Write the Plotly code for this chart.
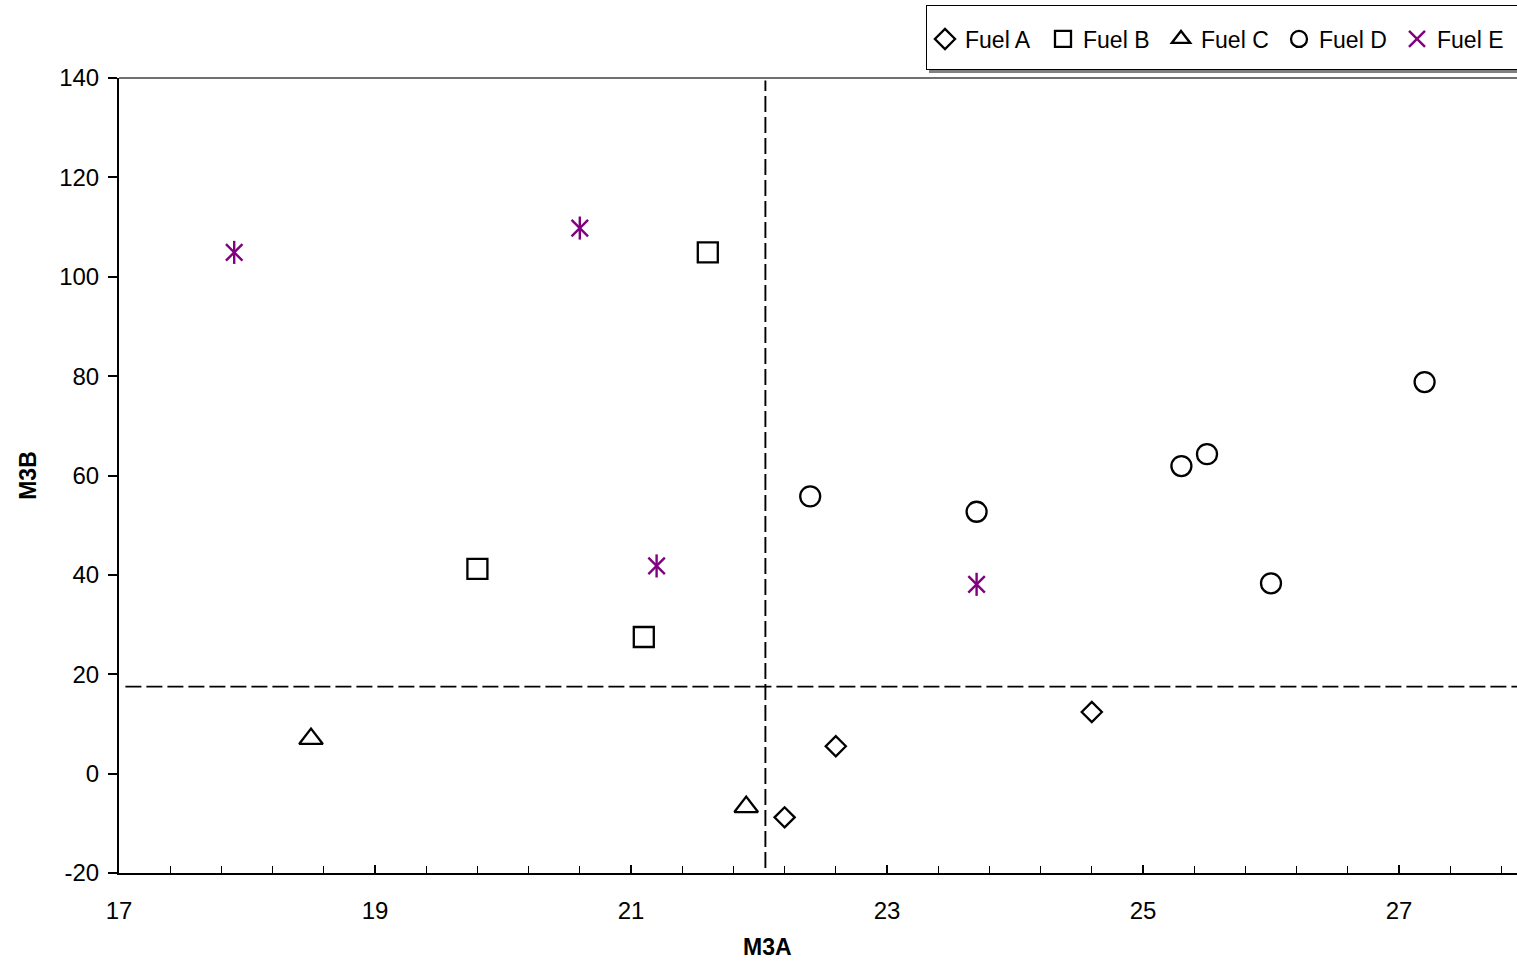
import plotly.graph_objects as go

# ---- data ----
fuel_a_x = [22.2, 22.6, 24.6]
fuel_a_y = [-8.8, 5.5, 12.4]

fuel_b_x = [19.8, 21.1, 21.6]
fuel_b_y = [41.2, 27.5, 104.9]

fuel_c_x = [18.5, 21.9]
fuel_c_y = [7.0, -6.7]

fuel_d_x = [22.4, 23.7, 25.3, 25.5, 26.0, 27.2]
fuel_d_y = [55.8, 52.7, 61.9, 64.3, 38.3, 78.8]

fuel_e_x = [17.9, 20.6, 21.2, 23.7]
fuel_e_y = [104.9, 109.8, 41.8, 38.1]

vline_x = [22.05, 22.05]
vline_y = [-19, 139.5]
hline_x = [17.05, 28]
hline_y = [17.5, 17.5]

x_ticks = [17, 19, 21, 23, 25, 27]
x_ticktext = ["17", "19", "21", "23", "25", "27"]
y_ticks = [-20, 0, 20, 40, 60, 80, 100, 120, 140]
y_ticktext = ["-20", "0", "20", "40", "60", "80", "100", "120", "140"]

FONT = "Arial, Liberation Sans, sans-serif"
W, H = 1517, 963
ML, MR, MT, MB = 119, 0, 78, 90
PW, PH = W - ML - MR, H - MT - MB


def px_x(px):
    return (px - ML) / PW


def px_y(py):
    return (H - MB - py) / PH


fig = go.Figure()

dash = "16px,5px"
fig.add_trace(go.Scatter(x=vline_x, y=vline_y, mode="lines", showlegend=False,
                         line=dict(color="black", width=1.9, dash=dash), hoverinfo="skip"))
fig.add_trace(go.Scatter(x=hline_x, y=hline_y, mode="lines", showlegend=False,
                         line=dict(color="black", width=1.9, dash=dash), hoverinfo="skip"))

mk_line = dict(color="black", width=2.3)
fig.add_trace(go.Scatter(x=fuel_a_x, y=fuel_a_y, mode="markers", name="Fuel A",
                         marker=dict(symbol="diamond-open", size=15.5, color="black", line=mk_line)))
fig.add_trace(go.Scatter(x=fuel_b_x, y=fuel_b_y, mode="markers", name="Fuel B",
                         marker=dict(symbol="square-open", size=20, color="black", line=mk_line)))
fig.add_trace(go.Scatter(x=fuel_c_x, y=fuel_c_y, mode="markers", name="Fuel C",
                         marker=dict(symbol="triangle-up-open", size=20.5, color="black", line=mk_line)))
fig.add_trace(go.Scatter(x=fuel_d_x, y=fuel_d_y, mode="markers", name="Fuel D",
                         marker=dict(symbol="circle-open", size=20, color="black", line=mk_line)))
purple = "#800080"
fig.add_trace(go.Scatter(x=fuel_e_x, y=fuel_e_y, mode="markers", name="Fuel E",
                         marker=dict(symbol="x-thin-open", size=16.5, color=purple,
                                     line=dict(color=purple, width=2.4))))
fig.add_trace(go.Scatter(x=fuel_e_x, y=fuel_e_y, mode="markers", name="Fuel E",
                         showlegend=False,
                         marker=dict(symbol="line-ns-open", size=16.5, color=purple,
                                     line=dict(color=purple, width=2.4))))

RIGHT = px_x(W)  # == 1.0, keep every shape inside the figure
shapes = [
    # legend shadow (bottom) and box
    dict(type="rect", xref="paper", yref="paper", layer="below",
         x0=px_x(929), x1=RIGHT, y0=px_y(73), y1=px_y(70),
         fillcolor="#808080", line=dict(width=0)),
    dict(type="rect", xref="paper", yref="paper", layer="below",
         x0=px_x(926), x1=RIGHT, y0=px_y(70), y1=px_y(5),
         fillcolor="white", line=dict(width=0)),
    dict(type="line", xref="paper", yref="paper", x0=px_x(926), x1=RIGHT,
         y0=px_y(5.5), y1=px_y(5.5), line=dict(color="black", width=1)),
    dict(type="line", xref="paper", yref="paper", x0=px_x(926), x1=RIGHT,
         y0=px_y(69.5), y1=px_y(69.5), line=dict(color="black", width=1)),
    dict(type="line", xref="paper", yref="paper", x0=px_x(926.5), x1=px_x(926.5),
         y0=px_y(5.5), y1=px_y(69.5), line=dict(color="black", width=1)),
    # top border of plot area
    dict(type="line", xref="paper", yref="paper", x0=0, x1=1, y0=1, y1=1,
         line=dict(color="#404040", width=1.5)),
]

annotations = [
    dict(text="<b>M3A</b>", xref="paper", yref="paper",
         x=px_x(767), y=px_y(947), xanchor="center", yanchor="middle",
         showarrow=False, font=dict(family=FONT, size=23, color="black")),
]

fig.update_layout(
    width=W, height=H, autosize=False,
    margin=dict(l=ML, r=MR, t=MT, b=MB, pad=0),
    paper_bgcolor="white", plot_bgcolor="white",
    font=dict(family=FONT, size=23, color="black"),
    shapes=shapes,
    annotations=annotations,
    showlegend=True,
    legend=dict(orientation="h", x=px_x(925), xanchor="left",
                y=px_y(39), yanchor="middle",
                bgcolor="rgba(0,0,0,0)", borderwidth=0,
                entrywidth=73, entrywidthmode="pixels",
                font=dict(family=FONT, size=23, color="black"),
                itemsizing="trace"),
    xaxis=dict(range=[17, 17 + PW / 128.0], tickvals=x_ticks, ticktext=x_ticktext,
               showgrid=False, zeroline=False,
               showline=True, linecolor="black", linewidth=2,
               ticks="inside", ticklen=8, tickwidth=1.5, tickcolor="black",
               ticklabelstandoff=15,
               tickfont=dict(family=FONT, size=24, color="black"),
               minor=dict(dtick=0.4, tick0=17, ticks="inside", ticklen=7,
                          tickwidth=1.2, tickcolor="black", showgrid=False)),
    yaxis=dict(range=[-20, 140], tickvals=y_ticks, ticktext=y_ticktext,
               showgrid=False, zeroline=False,
               showline=True, linecolor="black", linewidth=2,
               ticks="outside", ticklen=9, tickwidth=1.5, tickcolor="black",
               ticklabelstandoff=4,
               tickfont=dict(family=FONT, size=24, color="black"),
               title=dict(text="<b>M3B</b>", standoff=16,
                          font=dict(family=FONT, size=23, color="black"))),
)

post = (
    "document.documentElement.style.margin='0';"
    "document.body.style.margin='0';"
    "document.documentElement.style.overflow='hidden';"
    "document.body.style.overflow='hidden';"
    "var gd=document.getElementById('{plot_id}');"
    "Plotly.relayout(gd,{width:%d,height:%d});" % (W, H)
)

fig.write_html("out.html", post_script=post,
               config={"responsive": False, "displayModeBar": False})
